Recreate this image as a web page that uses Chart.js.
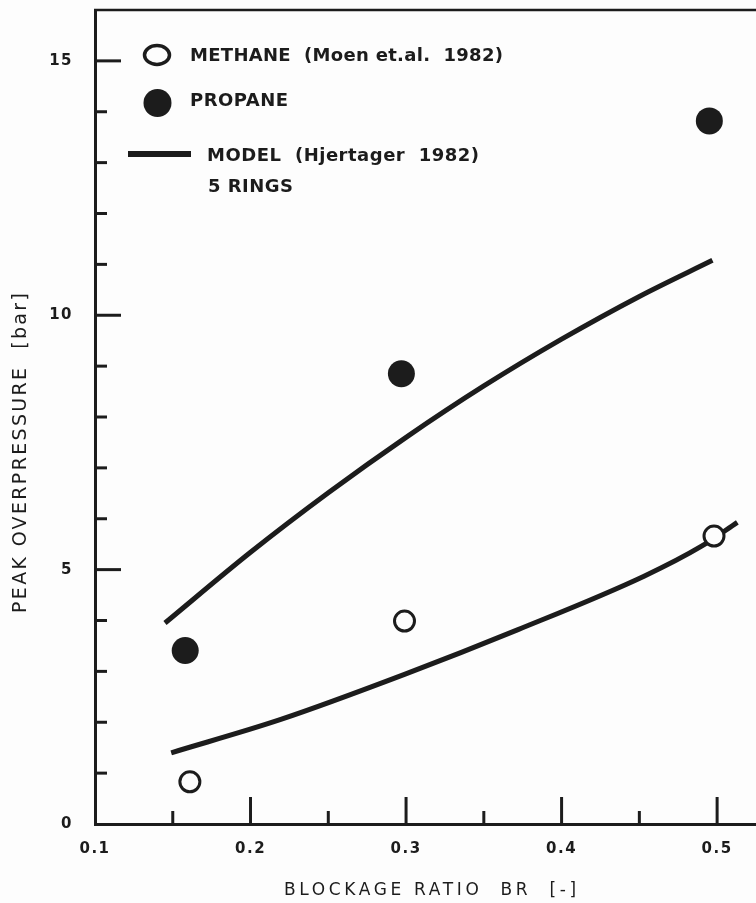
<!DOCTYPE html>
<html>
<head>
<meta charset="utf-8">
<script src="https://cdn.jsdelivr.net/npm/chart.js@4"></script>
<style>
  html, body { margin: 0; padding: 0; background: #fdfdfd; }
  #chart { display: block; }
</style>
</head>
<body>
<canvas id="chart" width="756" height="903"></canvas>
<script>
// ========== data ==========
const methaneBR = [0.161, 0.299, 0.498];
const methanePressure = [0.83, 3.99, 5.66];

const propaneBR = [0.158, 0.297, 0.495];
const propanePressure = [3.41, 8.85, 13.82];

// model curves (Hjertager 1982, 5 rings)
const modelPropaneBR = [0.145, 0.2, 0.25, 0.3, 0.35, 0.4, 0.45, 0.497];
const modelPropaneP = [3.95, 5.34, 6.51, 7.6, 8.61, 9.53, 10.37, 11.08];
const modelMethaneBR = [0.149, 0.219, 0.299, 0.372, 0.453, 0.49, 0.513];
const modelMethaneP = [1.4, 2.05, 2.94, 3.82, 4.87, 5.46, 5.93];

const xTickLabels = ["0.1", "0.2", "0.3", "0.4", "0.5"];
const yTickLabels = ["0", "5", "10", "15"];

const INK = "#1c1c1c";

function pares(xs, ys) {
  return xs.map((x, i) => ({ x: x, y: ys[i] }));
}

// texto com espacamento ajustado a uma largura
function textoEspacado(ctx, txt, x, y, largura) {
  ctx.letterSpacing = "0px";
  const w0 = ctx.measureText(txt).width;
  const sp = (largura - w0) / (txt.length - 1);
  ctx.letterSpacing = sp.toFixed(2) + "px";
  ctx.textAlign = "left";
  ctx.fillText(txt, x, y);
  ctx.letterSpacing = "0px";
}

// sem folga extra em volta da area do grafico
function semFolga(s) {
  s.paddingTop = 0;
  s.paddingBottom = 0;
  s.paddingLeft = 0;
  s.paddingRight = 0;
}

// ========== ticks para dentro, moldura, legenda, titulos ==========
const decoracao = {
  id: "decoracao",
  beforeDraw(chart) {
    chart.ctx.letterSpacing = "1.5px";
  },
  afterDraw(chart) {
    const ctx = chart.ctx;
    const xs = chart.scales.x;
    const ys = chart.scales.y;
    const area = chart.chartArea;
    ctx.save();
    ctx.letterSpacing = "0px";
    ctx.strokeStyle = INK;
    ctx.fillStyle = INK;
    ctx.lineCap = "butt";

    // moldura de cima
    ctx.lineWidth = 2.5;
    ctx.beginPath();
    ctx.moveTo(area.left - 1, area.top);
    ctx.lineTo(area.right, area.top);
    ctx.stroke();

    // ticks do eixo y
    ctx.lineWidth = 3;
    for (let v = 1; v <= 15; v++) {
      const py = ys.getPixelForValue(v);
      const len = v % 5 === 0 ? 26 : 12;
      ctx.beginPath();
      ctx.moveTo(area.left, py);
      ctx.lineTo(area.left + len, py);
      ctx.stroke();
    }

    // ticks do eixo x
    for (let k = 3; k <= 10; k++) {
      const px = xs.getPixelForValue(k * 0.05);
      const len = k % 2 === 0 ? 27 : 13;
      ctx.beginPath();
      ctx.moveTo(px, area.bottom);
      ctx.lineTo(px, area.bottom - len);
      ctx.stroke();
    }

    // legenda
    ctx.lineWidth = 3.5;
    ctx.beginPath();
    ctx.ellipse(157, 55, 12.5, 9.5, 0, 0, Math.PI * 2);
    ctx.stroke();
    ctx.beginPath();
    ctx.arc(157.5, 103, 14, 0, Math.PI * 2);
    ctx.fill();
    ctx.lineWidth = 6;
    ctx.beginPath();
    ctx.moveTo(128, 154);
    ctx.lineTo(191, 154);
    ctx.stroke();

    ctx.font = "bold 18px 'DejaVu Sans'";
    ctx.textBaseline = "middle";
    textoEspacado(ctx, "METHANE  (Moen et.al.  1982)", 190, 56, 313);
    textoEspacado(ctx, "PROPANE", 190, 101, 98);
    textoEspacado(ctx, "MODEL  (Hjertager  1982)", 207, 156, 272);
    textoEspacado(ctx, "5 RINGS", 208, 187, 85);

    // titulos dos eixos
    ctx.font = "17px 'DejaVu Sans'";
    textoEspacado(ctx, "BLOCKAGE RATIO  BR  [-]", 284, 891, 292);

    ctx.save();
    ctx.translate(21, 453);
    ctx.rotate(-Math.PI / 2);
    ctx.font = "19px 'DejaVu Sans'";
    textoEspacado(ctx, "PEAK OVERPRESSURE  [bar]", -160, 0, 320);
    ctx.restore();

    ctx.restore();
  },
};

const ctx = document.getElementById("chart").getContext("2d");
let grafico = new Chart(ctx, {
  type: "scatter",
  data: {
    datasets: [
      {
        label: "METHANE",
        data: pares(methaneBR, methanePressure),
        pointStyle: "circle",
        pointRadius: 10,
        borderWidth: 3,
        borderColor: INK,
        backgroundColor: "#fdfdfd",
        order: 0,
      },
      {
        label: "PROPANE",
        data: pares(propaneBR, propanePressure),
        pointStyle: "circle",
        pointRadius: 13.5,
        borderWidth: 0,
        backgroundColor: INK,
        order: 0,
      },
      {
        type: "line",
        label: "MODEL propane",
        data: pares(modelPropaneBR, modelPropaneP),
        borderColor: INK,
        borderWidth: 5,
        pointRadius: 0,
        cubicInterpolationMode: "monotone",
        fill: false,
        order: 1,
      },
      {
        type: "line",
        label: "MODEL methane",
        data: pares(modelMethaneBR, modelMethaneP),
        borderColor: INK,
        borderWidth: 5,
        pointRadius: 0,
        cubicInterpolationMode: "monotone",
        fill: false,
        order: 1,
      },
    ],
  },
  options: {
    responsive: false,
    animation: false,
    events: [],
    layout: { autoPadding: false, padding: { top: 10, right: 0, left: 0, bottom: 0 } },
    plugins: {
      legend: { display: false },
      tooltip: { enabled: false },
    },
    scales: {
      x: {
        type: "linear",
        min: 0.1,
        max: 0.525,
        grid: { display: false, drawTicks: false },
        border: { display: true, width: 3, color: INK },
        ticks: {
          stepSize: 0.1,
          includeBounds: false,
          padding: 16,
          color: INK,
          font: { family: "DejaVu Sans", size: 15, weight: "bold" },
          callback: (v) => {
            const t = v.toFixed(1);
            return xTickLabels.includes(t) ? t : "";
          },
        },
        afterFit: (s) => { s.height = 79; semFolga(s); },
      },
      y: {
        min: 0,
        max: 16,
        grid: { display: false, drawTicks: false },
        border: { display: true, width: 3, color: INK },
        ticks: {
          stepSize: 5,
          includeBounds: false,
          padding: 22,
          color: INK,
          font: { family: "DejaVu Sans", size: 15, weight: "bold" },
          callback: (v) => {
            const t = String(v);
            return yTickLabels.includes(t) ? t : "";
          },
        },
        afterFit: (s) => { s.width = 95; semFolga(s); },
      },
    },
  },
  plugins: [decoracao],
});
</script>
</body>
</html>
